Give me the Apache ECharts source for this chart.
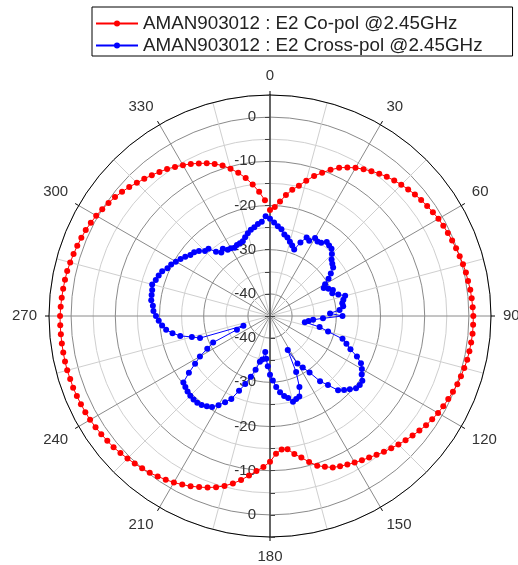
<!DOCTYPE html>
<html><head><meta charset="utf-8">
<script src="https://cdn.jsdelivr.net/npm/echarts@6/dist/echarts.min.js"></script>
<style>html,body{margin:0;padding:0;background:#fff}#c{width:518px;height:565px}</style>
</head><body><div id="c"></div>
<script>
const angles = [0,2.5,5,7.5,10,12.5,15,17.5,20,22.5,25,27.5,30,32.5,35,37.5,40,42.5,45,47.5,50,52.5,55,57.5,
60,62.5,65,67.5,70,72.5,75,77.5,80,82.5,85,87.5,90,92.5,95,97.5,100,102.5,105,107.5,110,112.5,115,117.5,
120,122.5,125,127.5,130,132.5,135,137.5,140,142.5,145,147.5,150,152.5,155,157.5,160,162.5,165,167.5,170,172.5,175,177.5,
180,182.5,185,187.5,190,192.5,195,197.5,200,202.5,205,207.5,210,212.5,215,217.5,220,222.5,225,227.5,230,232.5,235,237.5,
240,242.5,245,247.5,250,252.5,255,257.5,260,262.5,265,267.5,270,272.5,275,277.5,280,282.5,285,287.5,290,292.5,295,297.5,
300,302.5,305,307.5,310,312.5,315,317.5,320,322.5,325,327.5,330,332.5,335,337.5,340,342.5,345,347.5,350,352.5,355,357.5];

const coPol = [-21.0,-20.3,-19.0,-17.4,-16.0,-14.8,-13.3,-11.8,-10.5,-9.2,-8.0,-7.1,-6.3,-5.6,-5.0,-4.4,-3.9,-3.4,-3.0,-2.6,-2.2,-1.9,-1.6,-1.3,
-1.0,-0.8,-0.6,-0.4,-0.2,0.0,0.2,0.4,0.5,0.7,0.8,0.9,1.0,1.0,1.0,0.9,0.8,0.7,0.5,0.3,0.1,-0.2,-0.5,-0.8,
-1.1,-1.5,-1.9,-2.4,-2.9,-3.4,-3.9,-4.4,-4.9,-5.4,-5.9,-6.3,-6.7,-7.1,-7.5,-7.9,-8.7,-9.5,-10.8,-12.2,-13.3,-14.6,-14.7,-13.8,
-12.0,-10.8,-9.8,-8.6,-7.3,-6.2,-5.2,-4.4,-3.7,-3.1,-2.5,-2.0,-1.5,-1.1,-0.7,-0.3,0.0,0.3,0.6,0.9,1.2,1.4,1.6,1.8,
2.0,2.1,2.2,2.3,2.4,2.4,2.5,2.5,2.5,2.5,2.5,2.5,2.5,2.4,2.3,2.2,2.1,2.0,1.8,1.6,1.4,1.2,1.0,0.7,
0.4,0.0,-0.4,-0.8,-1.3,-1.8,-2.4,-2.9,-3.4,-3.9,-4.4,-5.0,-5.6,-6.2,-6.9,-7.6,-8.4,-9.3,-10.5,-11.8,-13.3,-15.0,-16.8,-18.8];

const crossPol = [-23.0,-23.8,-24.6,-25.2,-26.3,-26.8,-27.6,-28.3,-29.0,-27.0,-25.4,-25.8,-24.6,-25.0,-24.8,-23.9,-24.2,-24.4,-25.2,-26.1,-26.6,-27.0,-28.2,-29.3,
-30.6,-31.3,-30.4,-29.6,-30.0,-28.8,-27.4,-28.0,-28.4,-28.3,-29.2,-31.4,-28.6,-33.0,-35.2,-36.2,-37.0,-33.5,-31.4,-27.8,-26.6,-25.3,-23.3,-21.8,
-21.0,-20.4,-19.5,-19.4,-19.6,-20.5,-21.3,-22.2,-24.6,-26.4,-29.4,-31.2,-32.6,-36.3,-31.0,-27.6,-25.6,-25.3,-24.9,-26.0,-26.6,-27.6,-28.9,-30.4,
-31.7,-33.6,-35.3,-36.8,-35.0,-34.4,-32.4,-30.6,-28.6,-26.7,-24.3,-23.0,-21.7,-20.6,-20.1,-19.6,-19.4,-19.4,-19.5,-19.7,-20.0,-20.3,-22.6,-24.9,
-26.7,-29.0,-30.8,-36.9,-38.6,-28.4,-26.7,-24.2,-22.6,-21.3,-20.5,-19.8,-19.2,-18.6,-18.4,-17.9,-17.8,-17.7,-17.4,-17.9,-18.2,-18.6,-19.4,-19.8,
-20.4,-21.0,-21.6,-22.3,-22.6,-23.2,-24.2,-24.4,-26.0,-26.9,-26.4,-27.2,-27.3,-27.6,-27.3,-27.2,-27.0,-26.3,-25.6,-25.0,-24.6,-24.0,-23.6,-22.4];

const seriesNames = ['AMAN903012 : E2 Co-pol @2.45GHz', 'AMAN903012 : E2 Cross-pol @2.45GHz'];
const seriesColors = ['#ff0000', '#0000ff'];
const radiusMin = -45, radiusMax = 5, radiusStep = 5;
const angleStepLabel = 30;

const FONT = '"Liberation Sans", Arial, sans-serif';
const chart = echarts.init(document.getElementById('c'), null, {renderer: 'canvas'});

const radLabel = v => (v % 10 === 0 ? String(v) : '');

chart.setOption({
  animation: false,
  backgroundColor: '#fff',
  legend: {
    orient: 'vertical', left: 92, top: 7,
    itemWidth: 42, itemHeight: 7.5, itemGap: 1,
    padding: [6, 30, 0, 3],
    borderColor: '#000', borderWidth: 1, borderRadius: 0,
    textStyle: {fontSize: 18.8, lineHeight: 21, color: '#222', fontFamily: FONT},
    data: seriesNames
  },
  polar: [
    {center: [270, 316], radius: 221},
    {center: [270, 316], radius: 221}
  ],
  angleAxis: [
    {
      polarIndex: 0, type: 'value', min: 0, max: 360, interval: angleStepLabel,
      startAngle: 90, clockwise: true,
      axisLine: {show: true, lineStyle: {color: '#000', width: 1}},
      axisTick: {show: true, length: 4, lineStyle: {color: '#000'}},
      axisLabel: {margin: 12, fontSize: 15, color: '#333', fontFamily: FONT,
        formatter: v => (v === 360 ? '' : String(v))},
      splitLine: {show: true, lineStyle: {color: '#8a8a8a', width: 1}},
      minorTick: {show: false, splitNumber: 2},
      minorSplitLine: {show: true, lineStyle: {color: '#cfcfcf', width: 1}}
    },
    {
      polarIndex: 1, type: 'value', min: 0, max: 360, startAngle: 270, clockwise: true,
      axisLine: {show: false}, axisTick: {show: false}, axisLabel: {show: false},
      splitLine: {show: false}
    }
  ],
  radiusAxis: [
    {
      polarIndex: 0, type: 'value', min: radiusMin, max: radiusMax, interval: radiusStep,
      axisLine: {show: true, lineStyle: {color: '#444', width: 1.5}},
      axisTick: {show: true, length: 5, lineStyle: {color: '#444'}},
      axisLabel: {margin: 14, fontSize: 15, color: '#333', fontFamily: FONT, formatter: radLabel},
      splitLine: {show: true, lineStyle: {color: ['#cfcfcf', '#8a8a8a'], width: 1}}
    },
    {
      polarIndex: 1, type: 'value', min: radiusMin, max: radiusMax, interval: radiusStep,
      axisLine: {show: true, lineStyle: {color: '#444', width: 1.5}},
      axisTick: {show: true, inside: true, length: 5, lineStyle: {color: '#444'}},
      axisLabel: {margin: -14, align: 'right', fontSize: 15, color: '#333', fontFamily: FONT, formatter: radLabel},
      splitLine: {show: false}
    }
  ],
  series: [
    {
      name: seriesNames[0], type: 'line', coordinateSystem: 'polar', polarIndex: 0,
      data: angles.map((a, i) => [coPol[i], a]),
      symbol: 'circle', symbolSize: 6, showAllSymbol: true,
      lineStyle: {color: seriesColors[0], width: 1},
      itemStyle: {color: seriesColors[0]}
    },
    {
      name: seriesNames[1], type: 'line', coordinateSystem: 'polar', polarIndex: 0,
      data: angles.map((a, i) => [crossPol[i], a]),
      symbol: 'circle', symbolSize: 6, showAllSymbol: true,
      lineStyle: {color: seriesColors[1], width: 1},
      itemStyle: {color: seriesColors[1]}
    }
  ]
});
</script></body></html>
